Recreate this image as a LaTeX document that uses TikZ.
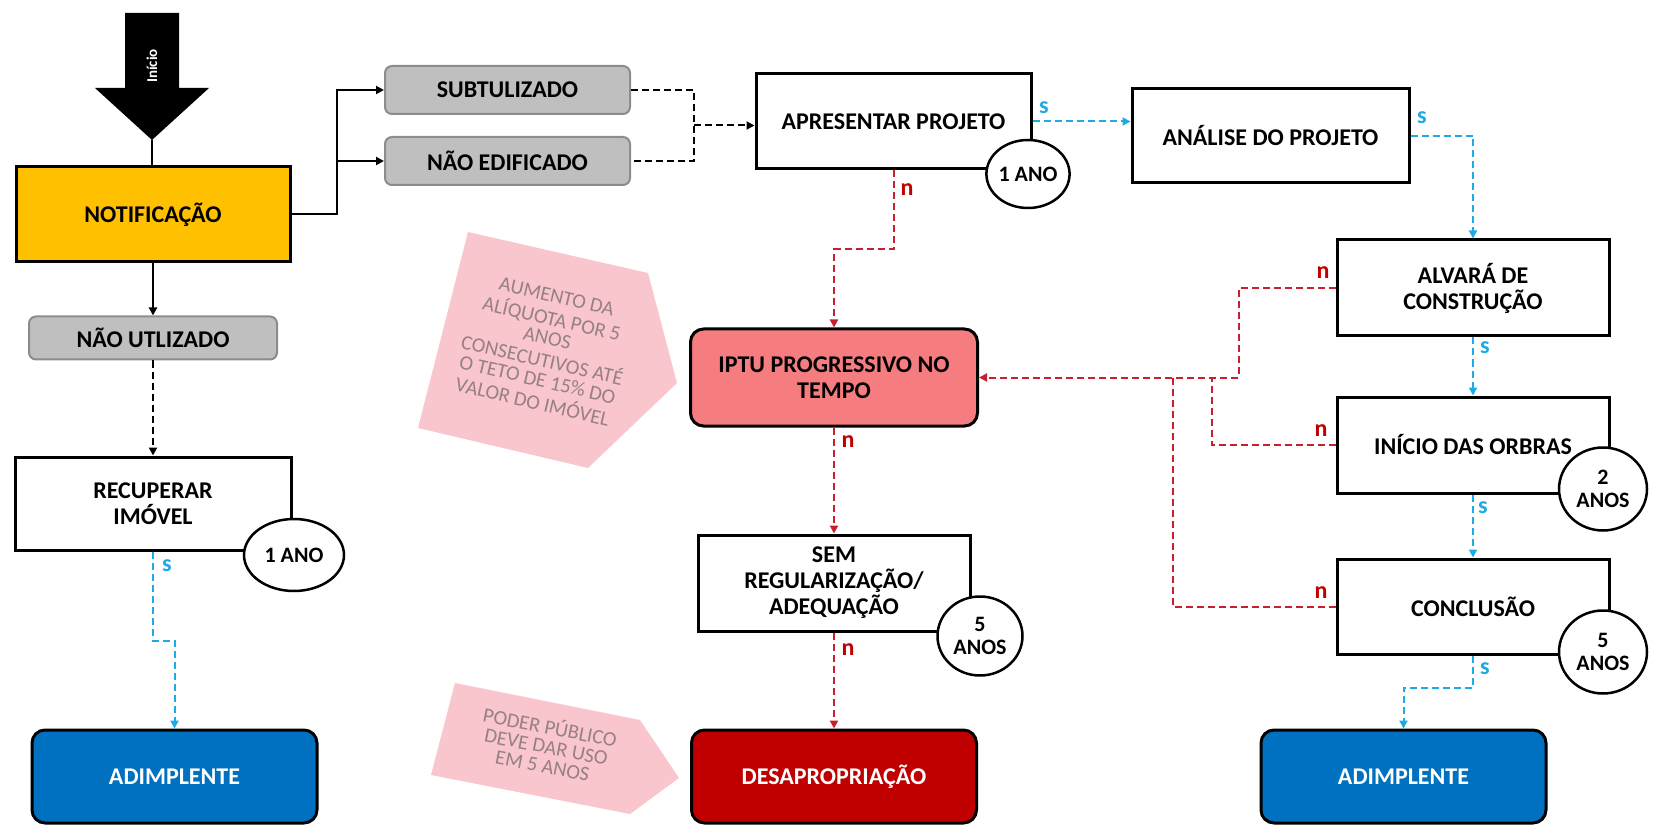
\documentclass[tikz,border=0pt]{standalone}
\usepackage{fontspec}
\setmainfont{Carlito}
\usetikzlibrary{arrows.meta,calc,shapes.geometric}
\definecolor{notifc}{HTML}{FFC000}
\definecolor{grayc}{HTML}{BFBFBF}
\definecolor{graybd}{HTML}{8C8C8C}
\definecolor{iptuc}{RGB}{245,125,128}
\definecolor{desapc}{HTML}{C00000}
\definecolor{adimc}{HTML}{0070C0}
\definecolor{redline}{RGB}{200,30,45}
\definecolor{nred}{RGB}{192,0,0}
\definecolor{blueline}{RGB}{30,170,230}
\definecolor{pinkc}{RGB}{248,198,204}
\definecolor{calltxt}{RGB}{150,128,134}
\begin{document}
\begin{tikzpicture}[x=1pt,y=-1pt,
  lbl/.style={font=\bfseries\fontsize{24}{26}\selectfont, align=center, inner sep=0pt},
  box/.style={lbl, draw=black, line width=3pt, fill=white},
  graybox/.style={lbl, draw=graybd, line width=2pt, fill=grayc, rounded corners=7pt},
  rbox/.style={lbl, draw=black, line width=3pt, rounded corners=13pt},
  tag/.style={lbl, draw=black, line width=2.5pt, fill=white, ellipse, font=\bfseries\fontsize{22}{23}\selectfont},
  conn/.style={line width=2pt, draw=black},
  arr/.style={-{Triangle[length=8pt,width=8pt]}},
  blkdash/.style={conn, dash pattern=on 7pt off 4pt},
  reddash/.style={line width=2pt, draw=redline, dash pattern=on 7pt off 4pt},
  bluedash/.style={line width=2pt, draw=blueline, dash pattern=on 7pt off 4pt},
  nlab/.style={font=\bfseries\fontsize{24}{24}\selectfont, text=nred, inner sep=0pt},
  slab/.style={font=\bfseries\fontsize{24}{24}\selectfont, text=blueline, inner sep=0pt},
  calltext/.style={font=\fontsize{20.5}{19.5}\selectfont, text=calltxt, inner sep=0pt}
]
\useasboundingbox (0,0) rectangle (1655,826);

% Inicio arrow
\fill[black] (125,13) -- (179,13) -- (179,88) -- (209,88) -- (152,140) -- (95,88) -- (125,88) -- cycle;
\coordinate (tip) at (152,140);
\node[rotate=90, text=white, font=\bfseries\fontsize{15}{15}\selectfont, inner sep=0pt] (inicio) at (152,66) {Início};

% nodes
\node[box, fill=notifc, minimum width=274pt, minimum height=95pt] (notif) at (153,214.5) {NOTIFICAÇÃO};
\node[graybox, minimum width=245pt, minimum height=48pt] (subt) at (507.5,90) {SUBTULIZADO};
\node[graybox, minimum width=245pt, minimum height=48pt] (naoed) at (507.5,161) {NÃO EDIFICADO};
\node[graybox, minimum width=248pt, minimum height=43pt] (naoutil) at (153,338) {NÃO UTLIZADO};
\node[box, minimum width=276pt, minimum height=93pt] (recup) at (153,503.5) {RECUPERAR\\IMÓVEL};
\node[rbox, fill=adimc, text=white, minimum width=285pt, minimum height=93pt] (adimL) at (174.5,776.5) {ADIMPLENTE};

\node[box, minimum width=275pt, minimum height=95pt] (apres) at (893.5,121.5) {APRESENTAR PROJETO};
\node[box, minimum width=277pt, minimum height=94pt] (anal) at (1270.5,136) {ANÁLISE DO PROJETO};
\node[box, minimum width=272pt, minimum height=96pt] (alvara) at (1473,288) {ALVARÁ DE\\CONSTRUÇÃO};
\node[box, minimum width=272pt, minimum height=96pt] (obras) at (1473,445) {INÍCIO DAS ORBRAS};
\node[box, minimum width=272pt, minimum height=95pt] (concl) at (1473,606.5) {CONCLUSÃO};
\node[rbox, fill=adimc, text=white, minimum width=285pt, minimum height=93pt] (adimR) at (1403.5,776.5) {ADIMPLENTE};

\node[rbox, fill=iptuc, minimum width=287pt, minimum height=97pt] (iptu) at (834,377.5) {IPTU PROGRESSIVO NO\\TEMPO};
\node[box, minimum width=272pt, minimum height=96pt] (sem) at (834,583) {SEM\\REGULARIZAÇÃO/\\ADEQUAÇÃO};
\node[rbox, fill=desapc, text=white, minimum width=285pt, minimum height=93pt] (desap) at (834,776.5) {DESAPROPRIAÇÃO};

% time tags
\node[tag, minimum width=79pt, minimum height=68pt] (t1) at (1028,174) {1 ANO};
\node[tag, minimum width=100pt, minimum height=72pt] (t2) at (294,555) {1 ANO};
\node[tag, minimum width=85pt, minimum height=79pt] (t3) at (980,636) {5\\ANOS};
\node[tag, minimum width=88pt, minimum height=83pt] (t4) at (1603,489) {2\\ANOS};
\node[tag, minimum width=88pt, minimum height=83pt] (t5) at (1603,652) {5\\ANOS};

% callouts
\fill[pinkc] (468,232) -- (648,273) -- (677,383) -- (588,468) -- (418,428) -- cycle;
\node[calltext] (c1) at (544,352) {\rotatebox{-13}{\begin{tabular}{@{}c@{}}AUMENTO DA\\ALÍQUOTA POR 5\\ANOS\\CONSECUTIVOS ATÉ\\O TETO DE 15\% DO\\VALOR DO IMÓVEL\end{tabular}}};
\fill[pinkc] (455,683) -- (640,720) -- (679,778) -- (630,814) -- (431,775) -- cycle;
\node[calltext] (c2) at (546,748) {\rotatebox{-11}{\begin{tabular}{@{}c@{}}PODER PÚBLICO\\DEVE DAR USO\\EM 5 ANOS\end{tabular}}};

% black connectors
\draw[conn] (tip) -- (tip |- notif.north);
\draw[conn, arr] (notif.east) -- ++(45,0) coordinate (br) |- (subt.west);
\draw[conn, arr] (br) |- (naoed.west);
\draw[conn, arr] (notif.south) -- (naoutil.north);
\draw[blkdash, arr] (naoutil.south) -- (recup.north);
\draw[blkdash] (subt.east) -- ++(63,0) coordinate (mt) |- (naoed.east);
\coordinate (m) at ($(mt)!0.5!(mt |- naoed.east)$);
\draw[blkdash, arr] (m) -- (m -| apres.west);

% blue connectors
\draw[bluedash, arr] (apres.east) -- (apres.east -| anal.west);
\draw[bluedash, arr] (anal.east) -| (alvara.north);
\draw[bluedash, arr] (alvara.south) -- (obras.north);
\draw[bluedash, arr] (obras.south) -- (concl.north);
\draw[bluedash, arr] (concl.south) -- ++(0,32) -| (adimR.north);
\draw[bluedash, arr] (recup.south) -- ++(0,89) -| (adimL.north);

% red connectors
\draw[reddash, arr] (apres.south) -- ++(0,79) -| (iptu.north);
\draw[reddash, arr] (iptu.south) -- (sem.north);
\draw[reddash, arr] (sem.south) -- (desap.north);
\draw[reddash, arr] (alvara.west) -- ++(-97,0) |- (iptu.east);
\path (obras.west) ++(-124,0) coordinate (j1);
\draw[reddash] (obras.west) -- (j1) -- (j1 |- iptu.east);
\path (concl.west) ++(-163,0) coordinate (j2);
\draw[reddash] (concl.west) -- (j2) -- (j2 |- iptu.east);

% s / n labels
\node[slab] (s1) at (1044,108) {s};
\node[slab] (s2) at (1422,118) {s};
\node[slab] (s3) at (1485,348) {s};
\node[slab] (s4) at (1483,508) {s};
\node[slab] (s5) at (1485,669) {s};
\node[slab] (s6) at (167,566) {s};
\node[nlab] (n1) at (907,190) {n};
\node[nlab] (n2) at (848,442) {n};
\node[nlab] (n3) at (848,650) {n};
\node[nlab] (n4) at (1323,273) {n};
\node[nlab] (n5) at (1321,431) {n};
\node[nlab] (n6) at (1321,593) {n};
\end{tikzpicture}
\end{document}
